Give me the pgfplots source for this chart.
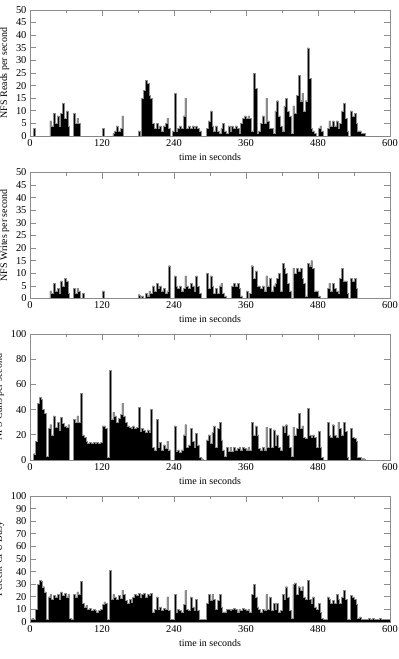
\documentclass[border=0pt]{standalone}
\usepackage{fontspec}
\setmainfont{Liberation Serif}
\usepackage{pgfplots}
\pgfplotsset{compat=1.18}
\usepackage{pgfplotstable}

\pgfplotstableread{
t R W C P
0 0 0 0 2
3 0 0 0 3
6 3 0 5 2
9 0 0 15 10
12 0 0 45 30
15 0 0 50 33
18 0 0 48 32
21 0 0 40 28
24 0 0 37 24
27 0 0 3 2
30 0 0 25 20
33 6 3 28 22
36 4 2 20 18
39 9 6 35 21
42 5 3 26 20
45 8 4 30 22
48 4 2 24 18
51 9 7 34 24
54 13 5 29 21
57 7 8 27 23
60 10 7 26 20
63 4 2 28 22
66 0 0 0 3
69 0 0 0 2
72 9 4 32 22
75 5 2 30 20
78 7 4 35 24
81 5 3 30 22
84 0 0 53 32
87 0 2 20 15
90 0 0 18 12
93 0 0 15 13
96 0 0 13 10
99 0 0 14 11
102 0 0 13 9
105 0 0 14 10
108 0 0 13 9
111 0 0 14 8
114 0 0 13 9
117 0 0 14 10
120 3 3 27 14
123 0 0 27 16
126 0 0 25 15
129 0 0 2 2
132 0 0 71 41
135 0 0 32 18
138 1 0 38 22
141 2 0 35 20
144 4 0 30 18
147 2 0 33 21
150 3 0 36 19
153 8 0 45 25
156 0 0 35 22
159 0 0 30 17
162 0 0 27 15
165 0 0 26 18
168 0 0 25 16
171 0 0 27 20
174 0 0 25 22
177 0 0 26 21
180 2 1.5 42 23
183 0 0 23 20
186 15 1 25 22
189 18 0 24 23
192 22 2 22 20
195 21 1 24 22
198 16 3 22 21
201 15 2 40 23
204 5 5 10 8
207 3 3 8 10
210 5 6 32 20
213 3 4 10 10
216 4 5 14 12
219 2 3 8 9
222 4 4 12 11
225 5 2 9 10
228 7 3 15 20
231 3 13 8 9
234 0 0 0 2
237 2 0 0 2
240 17 9 27 22
243 2 5 7 8
246 3 4 8 10
249 4 5 6 9
252 3 3 8 8
255 8 4 20 14
258 15 9 28 25
261 3 5 10 10
264 4 4 12 9
267 3 6 25 20
270 4 5 15 12
273 3 3 10 9
276 4 9 21 18
279 3 5 12 9
282 2 2 2 2
285 0 0 1 2
288 0 0 0 2
291 0 0 0 2
294 3 10 16 15
297 6 4 20 22
300 10 9 13 17
303 4 5 22 22
306 2 2 27 18
309 4 4 10 10
312 2 2 25 17
315 1 5 30 22
318 3 6 16 12
321 5 2 8 8
324 2 1 3 8
327 1 0 10 10
330 4 0 7 10
333 2 0 10 9
336 4 5 7 10
339 3 6 10 11
342 4 5 8 10
345 3 6 9 8
348 1 4 10 10
351 5 1 8 9
354 7 0 10 11
357 8 0 9 10
360 7 3 8 9
363 8 0 10 10
366 7 2 8 8
369 2 13 30 22
372 25 8 20 30
375 19 11 27 20
378 1 5 20 12
381 2 5 9 10
384 5 4 8 8
387 8 5 10 10
390 5 3 8 9
393 15 9 26 22
396 6 5 10 10
399 3 8 25 20
402 3 3 10 9
405 1 5 24 15
408 10 6 12 10
411 14 8 20 15
414 8 10 10 8
417 4 3 8 9
420 2 14 27 22
423 12 12 22 18
426 15 10 28 28
429 10 6 20 20
432 8 3 10 9
435 1 0 3 3
438 12 12 26 30
441 9 10 20 31
444 16 12 25 22
447 24 11 37 28
450 14 12 25 25
453 17 8 27 28
456 10 6 18 20
459 14 1 17 18
462 35 14 41 33
465 23 13 20 18
468 3 15 18 15
471 2 12 20 20
474 1 3 18 12
477 0 3 10 10
480 3 1 23 15
483 4 0 10 8
486 2 0 2 3
489 0 0 0 2
492 0 0 0 2
495 3 4 30 20
498 6 6 20 18
501 4 3 18 15
504 6 6 28 17
507 4 4 20 15
510 6 3 18 22
513 3 2 30 18
516 5 8 25 15
519 10 12 20 20
522 13 7 30 25
525 7 7 23 18
528 2 2 2 2
531 0 0 0 2
534 10 8 25 21
537 8 7 18 20
540 9 8 17 18
543 5 4 15 14
546 2 0 2 3
549 2 0 2 4
552 1 0 1 2
555 1 0 1 2
558 0 0 0 2
561 0 0 0 2
564 0 0 0 3
567 0 0 0 2
570 0 0 0 3
573 0 0 0 2
576 0 0 0 2
579 0 0 0 2
582 0 0 0 3
585 0 0 0 2
588 0 0 0 2
591 0 0 0 2
594 0 0 0 2
597 0 0 0 2
600 0 0 0 2
}\datatable

\pgfplotsset{nfs/.style={
  scale only axis, width=360bp, height=126bp,
  xmin=0, xmax=600, ymin=0,
  xtick={0,120,...,600}, minor xtick={60,180,...,540},
  axis line style={black!45, line width=0.8bp},
  every tick/.style={black!45, line width=0.8bp},
  major tick length=6bp, minor tick length=3bp,
  tick align=inside, tick pos=both,
  ticklabel style={font=\fontsize{10.5}{12}\selectfont},
  label style={font=\fontsize{10}{12}\selectfont},
  /pgf/number format/assume math mode=true,
  xlabel={time in seconds},
  anchor=north west,
}}
\tikzset{bars/.style={const plot, fill=black, draw=black!45, line width=0.4bp}}

\begin{document}
\begin{tikzpicture}
\path[use as bounding box] (0,0) rectangle (399bp,-659bp);
\begin{axis}[nfs, at={(30bp,-10bp)}, ymax=50, ytick={0,5,...,50}, ylabel={NFS Reads per second}]
\addplot[bars] table[x=t, y=R] {\datatable} \closedcycle;
\end{axis}
\begin{axis}[nfs, at={(30bp,-172.5bp)}, ymax=50, ytick={0,5,...,50}, ylabel={NFS Writes per second}]
\addplot[bars] table[x=t, y=W] {\datatable} \closedcycle;
\end{axis}
\begin{axis}[nfs, at={(30bp,-334bp)}, ymax=100, ytick={0,20,...,100}, ylabel={NFS Calls per second}]
\addplot[bars] table[x=t, y=C] {\datatable} \closedcycle;
\end{axis}
\begin{axis}[nfs, at={(30bp,-496bp)}, ymax=100, ytick={0,10,...,100}, ylabel={Percent CPU Busy}]
\addplot[bars] table[x=t, y=P] {\datatable} \closedcycle;
\end{axis}
\end{tikzpicture}
\end{document}
